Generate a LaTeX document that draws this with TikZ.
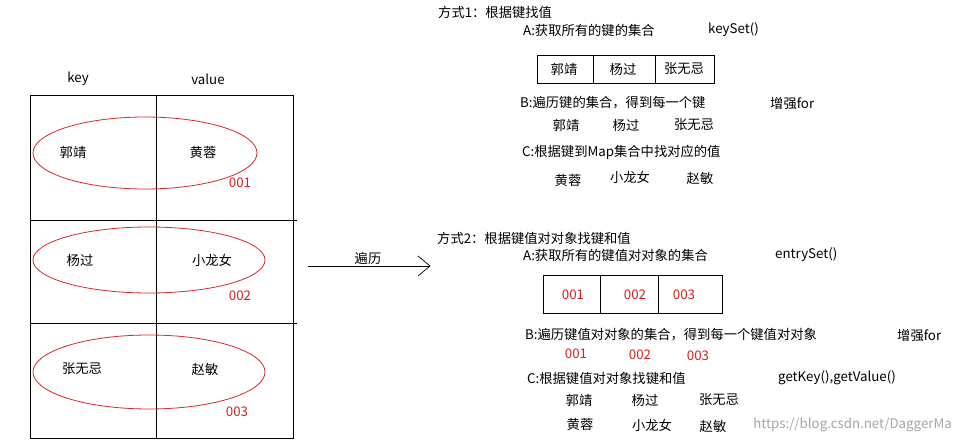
\documentclass[tikz,border=0pt]{standalone}
\usepackage{fontspec}
\setmainfont{Liberation Sans}
\newfontfamily\cjk{Noto Sans CJK SC}
\begin{document}
\begin{tikzpicture}[x=1pt,y=-1pt,
  t/.style={font=\cjk\fontsize{13.3}{15}\selectfont,inner sep=0pt},
  tl/.style={t,anchor=west},
  r/.style={t,text={rgb,255:red,220;green,30;blue,30}},
  ell/.style={draw={rgb,255:red,220;green,40;blue,40},line width=0.8pt},
  ln/.style={draw=black,line width=0.7pt}]
\useasboundingbox[fill=white] (0,0) rectangle (956,443);
% left table
\draw[ln] (30,95) rectangle (293,438);
\draw[ln] (156,95) -- (156,438);
\draw[ln] (30,220) -- (297,220);
\draw[ln] (30,323) -- (297,323);
\node[t] (hk) at (78,79) {key};
\node[t] (hv) at (208,79) {value};
\draw[ell] (145,153) ellipse [x radius=112,y radius=36];
\draw[ell] (149,260) ellipse [x radius=116,y radius=33];
\draw[ell] (149,372) ellipse [x radius=116,y radius=37];
\node[t] (k1) at (73,152) {郭靖}; \node[t] (v1) at (203,152) {黄蓉}; \node[r] (n1) at (240,183) {001};
\node[t] (k2) at (80,260) {杨过}; \node[t] (v2) at (212,260) {小龙女}; \node[r] (n2) at (240,296) {002};
\node[t] (k3) at (82,369) {张无忌}; \node[t] (v3) at (205,369) {赵敏}; \node[r] (n3) at (237,412) {003};
% arrow
\coordinate (a0) at (308,266); \coordinate (a1) at (430,266);
\draw[ln] (a0) -- (a1);
\draw[ln] (418,256) -- (a1) -- (418,276);
\node[t] (bl) at (368,258) {遍历};
% way 1
\node[tl] (m1) at (438,12) {方式1：根据键找值};
\node[tl] (m1a) at (523,30) {A:获取所有的键的集合};
\node[tl] (ks) at (708,30) {keySet()};
\draw[ln] (537,55) rectangle (714,83); \draw[ln] (593,55)--(593,83); \draw[ln] (655,55)--(655,83);
\node[t] (b1) at (564,69) {郭靖}; \node[t] (b2) at (623,69) {杨过}; \node[t] (b3) at (684,69) {张无忌};
\node[tl] (m1b) at (520,103) {B:遍历键的集合，得到每一个键};
\node[tl] (f1) at (770,103) {增强for};
\node[t] (c1) at (566,125) {郭靖}; \node[t] (c2) at (626,125) {杨过}; \node[t] (c3) at (694,125) {张无忌};
\node[tl] (m1c) at (522,152) {C:根据键到Map集合中找对应的值};
\node[t] (d1) at (568,180) {黄蓉}; \node[t] (d2) at (630,177) {小龙女}; \node[t] (d3) at (700,178) {赵敏};
% way 2
\node[tl] (m2) at (437,238) {方式2：根据键值对对象找键和值};
\node[tl] (m2a) at (523,255) {A:获取所有的键值对对象的集合};
\node[tl] (es) at (775,255) {entrySet()};
\draw[ln] (543,275) rectangle (722,313); \draw[ln] (600,275)--(600,313); \draw[ln] (658,275)--(658,313);
\node[r] (e1) at (573,295) {001}; \node[r] (e2) at (635,295) {002}; \node[r] (e3) at (684,295) {003};
\node[tl] (m2b) at (525,335) {B:遍历键值对对象的集合，得到每一个键值对对象};
\node[tl] (f2) at (897,335) {增强for};
\node[r] (g1) at (576,354) {001}; \node[r] (g2) at (640,355) {002}; \node[r] (g3) at (698,356) {003};
\node[tl] (m2c) at (527,378) {C:根据键值对对象找键和值};
\node[tl] (gk) at (778,378) {getKey(),getValue()};
\node[t] (h1) at (579,400) {郭靖}; \node[t] (h2) at (645,400) {杨过}; \node[t] (h3) at (719,400) {张无忌};
\node[t] (i1) at (580,424) {黄蓉}; \node[t] (i2) at (652,425) {小龙女}; \node[t] (i3) at (713,426) {赵敏};
\node[t,anchor=east,text=black!35] (wm) at (952,425) {https://blog.csdn.net/DaggerMa};
\end{tikzpicture}
\end{document}
